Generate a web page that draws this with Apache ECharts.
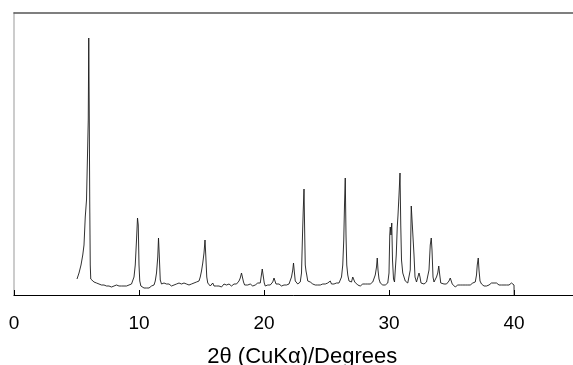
<!DOCTYPE html>
<html><head><meta charset="utf-8">
<script src="https://cdn.jsdelivr.net/npm/echarts@6/dist/echarts.min.js"></script>
<style>html,body{margin:0;padding:0;background:#fff}#c{width:573px;height:365px}</style>
</head><body><div id="c"></div>
<script>
var xTicks = [0, 10, 20, 30, 40];
var xName = '2θ (CuKα)/Degrees';
var theta = [5.04,5.2,5.36,5.5,5.6,5.7,5.8,5.88,5.94,5.98,6.02,6.06,6.1,6.14,6.2,
6.3,6.4,6.5,6.6,6.7,6.8,6.9,7.0,7.1,7.2,7.3,7.4,7.5,7.6,7.7,7.8,7.9,8.0,8.1,8.2,8.3,8.4,8.5,8.6,8.7,8.8,8.9,9.0,9.1,9.2,9.3,9.4,9.5,9.6,9.7,9.8,9.88,9.94,10.0,10.06,10.15,
10.3,10.4,10.5,10.6,10.7,10.8,10.9,11.0,11.1,11.2,11.3,11.4,11.5,11.56,11.62,11.7,11.8,11.9,12.0,12.1,12.2,12.3,12.4,12.5,12.6,12.7,12.8,12.9,13.0,13.1,13.2,13.3,13.4,13.5,13.6,13.7,13.8,13.9,14.0,14.1,14.2,14.3,14.4,14.5,14.6,14.7,14.8,14.9,15.0,15.1,15.2,15.28,15.34,15.42,15.5,
15.6,15.7,15.8,15.9,16.0,16.1,16.2,16.3,16.4,16.5,16.6,16.7,16.8,16.9,17.0,17.1,17.2,17.3,17.4,17.5,17.6,17.7,17.8,17.9,18.0,18.1,18.2,18.28,18.36,18.45,18.6,18.7,18.8,18.9,19.0,19.1,19.2,19.3,19.4,19.5,19.6,19.7,19.8,19.86,19.96,20.02,20.1,20.2,20.3,20.4,20.5,20.6,20.7,20.8,20.88,20.96,
21.1,21.2,21.3,21.4,21.5,21.6,21.7,21.8,21.9,22.0,22.1,22.2,22.3,22.36,22.42,22.5,22.6,22.7,22.8,22.9,23.0,23.08,23.14,23.2,23.26,23.3,23.36,23.42,23.5,23.6,23.7,23.8,23.9,24.0,24.1,24.2,24.3,24.4,24.5,24.6,24.7,24.8,24.9,25.0,25.1,25.2,25.3,25.4,25.5,25.6,25.7,25.8,25.9,26.0,26.1,26.2,26.3,26.38,26.44,26.5,26.56,26.62,26.7,26.8,26.9,27.0,27.1,27.18,27.26,
27.4,27.5,27.6,27.7,27.8,27.9,28.0,28.1,28.2,28.3,28.4,28.5,28.6,28.7,28.8,28.9,29.0,29.06,29.12,29.2,29.3,29.4,29.5,29.6,29.7,29.8,29.9,30.0,30.06,30.1,30.16,30.22,30.28,30.36,30.44,30.5,30.58,30.66,30.72,30.8,30.88,30.94,31.0,31.1,31.2,31.3,31.4,31.5,31.6,31.7,31.78,31.86,31.94,32.0,32.08,
32.2,32.3,32.4,32.48,32.56,32.7,32.8,32.9,33.0,33.1,33.2,33.3,33.38,33.44,33.52,33.6,33.7,33.8,33.9,33.98,34.06,34.14,34.3,34.4,34.5,34.6,34.7,34.8,34.9,34.98,35.06,35.2,35.3,35.4,35.5,35.6,35.7,35.8,35.9,36.0,36.1,36.2,36.3,36.4,36.5,36.6,36.7,36.8,36.9,37.0,37.06,37.14,37.2,37.28,
37.4,37.5,37.6,37.7,37.8,37.9,38.0,38.1,38.2,38.3,38.4,38.5,38.6,38.7,38.8,38.9,39.0,39.1,39.2,39.3,39.4,39.5,39.6,39.7,39.8,39.9,40.0,40.01];
var counts = [16,22,30,40,50,78,95,140,175,257,180,90,30,16,14,
15,13,14,12,13,11,12,10,12,10,11,9,10,9,10,8,9,9,8,10,8,9,8,9,8,9,10,9,8,10,9,11,13,18,30,55,77,70,30,14,9,
8,7,9,7,8,7,8,9,8,10,14,22,38,57,40,15,11,10,12,10,11,9,11,10,9,11,10,9,11,10,12,10,11,9,12,10,11,13,10,12,11,10,12,11,13,12,14,18,24,32,42,55,40,18,12,
11,9,10,12,9,10,9,11,9,10,8,10,11,9,10,9,11,10,9,10,11,10,11,12,14,17,22,20,13,10,9,10,9,11,10,9,11,10,11,12,11,12,14,26,26,12,9,11,10,9,10,11,13,17,16,11,
10,11,10,9,11,10,11,10,12,11,13,18,25,32,24,14,12,11,12,13,22,60,85,106,58,30,24,20,14,12,13,15,11,12,10,11,10,11,10,9,11,10,11,10,12,11,14,11,10,11,10,12,11,12,13,18,30,55,90,117,60,30,20,14,12,13,18,19,13,
11,10,11,9,10,11,10,11,10,11,12,11,12,13,15,20,28,37,25,16,12,11,10,11,10,11,12,22,60,68,60,72,35,16,13,15,40,68,80,100,122,70,35,22,18,14,13,12,14,25,89,89,89,40,18,
13,14,22,18,12,10,11,12,13,15,25,50,57,45,18,13,15,18,22,29,20,12,10,11,10,11,12,14,17,17,11,10,8,9,10,9,10,9,10,9,10,11,10,11,10,11,12,11,13,20,30,37,25,14,
11,10,9,10,9,11,10,11,12,11,12,10,12,11,10,9,10,9,10,9,10,9,10,11,12,11,10,0];
var yMax = 282;

var pts = theta.map(function (t, i) { return [t, counts[i]]; });
var chart = echarts.init(document.getElementById('c'), null, {renderer: 'canvas'});
chart.setOption({
  animation: false,
  grid: {left: 14, right: -3.5, top: 13, bottom: 70, containLabel: false, outerBoundsMode: 'none'},
  xAxis: [{
    type: 'value', min: 0, max: 45, interval: 10, position: 'bottom',
    axisLine: {show: true, lineStyle: {color: '#000', width: 1}},
    axisTick: {show: true, inside: true, length: 5, lineStyle: {color: '#000'}},
    axisLabel: {
      margin: 19, fontSize: 19, color: '#000', fontFamily: 'Liberation Sans, Arial, sans-serif',
      formatter: function (v) { return xTicks.indexOf(v) >= 0 ? String(v) : ''; }
    },
    splitLine: {show: false},
    name: xName, nameLocation: 'middle', nameGap: 51,
    nameTextStyle: {fontSize: 22, color: '#000', fontFamily: 'Liberation Sans, Arial, sans-serif', padding: [0, 0, 0, 14]}
  }, {
    type: 'value', min: 0, max: 45, position: 'top',
    axisLine: {show: true, lineStyle: {color: '#555', width: 1.5}},
    axisTick: {show: false}, axisLabel: {show: false}, splitLine: {show: false}
  }],
  yAxis: {
    type: 'value', min: 0, max: yMax,
    axisLine: {show: true, lineStyle: {color: '#cccccc', width: 2}},
    axisTick: {show: false}, axisLabel: {show: false}, splitLine: {show: false}
  },
  series: [{
    type: 'line', data: pts, xAxisIndex: 0, showSymbol: false, symbol: 'none',
    lineStyle: {color: '#1a1a1a', width: 0.9}
  }]
});
</script></body></html>
